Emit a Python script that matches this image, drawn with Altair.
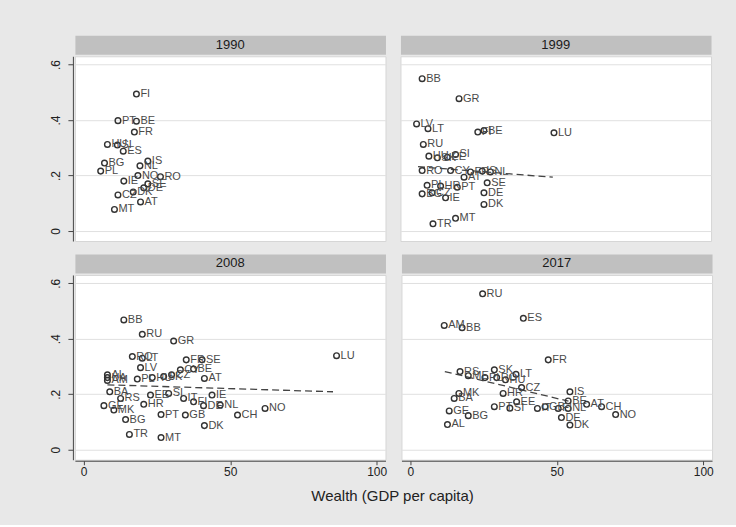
import altair as alt
import pandas as pd

FONT = "Liberation Sans"

years = ["1990", "1999", "2008", "2017"]

c1990 = ["FI", "PT", "BE", "FR", "HU", "SI", "ES", "BG", "PL", "IS", "NL", "NO", "RO",
         "IE", "SE", "DE", "DK", "CZ", "AT", "MT"]
x1990 = [18.0, 11.7, 18.0, 17.3, 8.1, 11.5, 13.5, 7.1, 5.8, 21.9, 19.2, 18.5, 26.2,
         13.7, 21.9, 20.5, 16.9, 11.7, 19.4, 10.5]
y1990 = [0.494, 0.398, 0.396, 0.357, 0.312, 0.310, 0.288, 0.245, 0.216, 0.252, 0.235, 0.200, 0.196,
         0.180, 0.170, 0.156, 0.141, 0.130, 0.105, 0.078]

c1999 = ["BB", "GR", "LV", "LT", "FI", "BE", "LU", "RU", "HU", "SK", "EE", "SI", "RO", "CY",
         "AT", "FR", "IS", "NL", "PL", "HR", "PT", "SE", "DE", "BG", "CZ", "IE", "DK", "TR", "MT"]
x1999 = [4.4, 17.0, 2.5, 6.4, 23.4, 25.5, 49.4, 4.8, 6.7, 9.6, 13.0, 15.8, 4.4, 14.1,
         18.7, 20.9, 24.9, 27.7, 6.1, 10.7, 16.4, 26.6, 25.5, 4.4, 7.8, 12.4, 25.5, 8.1, 15.8]
y1999 = [0.549, 0.477, 0.386, 0.369, 0.357, 0.362, 0.354, 0.312, 0.270, 0.264, 0.266, 0.276, 0.218, 0.218,
         0.194, 0.213, 0.216, 0.213, 0.165, 0.162, 0.158, 0.174, 0.138, 0.134, 0.138, 0.120, 0.096, 0.026, 0.046]

c2008 = ["BB", "RU", "GR", "LU", "RO", "LT", "FR", "SE", "LV", "CY", "BE", "AL", "UA", "AM",
         "PL", "HU", "SK", "CZ", "AT", "BA", "RS", "EE", "SI", "IT", "FI", "IE", "HR", "GE",
         "MK", "DE", "NL", "NO", "CH", "PT", "GB", "BG", "DK", "TR", "MT"]
x2008 = [13.7, 20.0, 30.7, 86.3, 16.6, 20.0, 35.0, 40.4, 19.4, 33.0, 37.5, 8.1, 8.1, 8.1,
         18.3, 23.4, 27.3, 30.0, 41.2, 8.9, 12.6, 22.8, 29.0, 34.1, 37.5, 43.8, 20.5, 6.9,
         10.3, 40.9, 46.6, 61.9, 52.5, 26.4, 34.7, 14.3, 41.2, 15.6, 26.4]
y2008 = [0.468, 0.416, 0.392, 0.339, 0.336, 0.330, 0.324, 0.324, 0.296, 0.288, 0.291, 0.270, 0.260, 0.250,
         0.255, 0.260, 0.264, 0.270, 0.257, 0.209, 0.185, 0.197, 0.203, 0.185, 0.173, 0.197, 0.164, 0.159,
         0.143, 0.159, 0.161, 0.149, 0.125, 0.127, 0.125, 0.109, 0.087, 0.055, 0.044]

c2017 = ["RU", "ES", "AM", "BB", "FR", "RS", "ME", "PL", "SK", "RO", "LT", "HU", "CZ", "MK",
         "BA", "HR", "IS", "BE", "AT", "CH", "EE", "GE", "BG", "PT", "SI", "IT", "GB", "FI",
         "NL", "DE", "DK", "NO", "AL"]
x2017 = [24.7, 38.6, 11.6, 17.7, 47.1, 17.0, 19.8, 25.5, 28.7, 29.5, 36.1, 32.5, 38.0, 16.6,
         15.0, 31.7, 54.5, 53.9, 60.2, 65.3, 36.3, 13.3, 19.8, 28.7, 34.0, 43.4, 46.0, 50.5,
         53.9, 51.6, 54.5, 70.1, 12.7]
y2017 = [0.562, 0.474, 0.448, 0.440, 0.324, 0.282, 0.267, 0.260, 0.288, 0.260, 0.272, 0.252, 0.224, 0.203,
         0.185, 0.203, 0.209, 0.176, 0.164, 0.155, 0.173, 0.140, 0.123, 0.155, 0.150, 0.149, 0.155, 0.149,
         0.149, 0.116, 0.089, 0.127, 0.091]

fit_year = ["1999", "1999", "2008", "2008", "2017", "2017"]
fit_x = [3.0, 49.0, 8.1, 85.1, 11.8, 54.0]
fit_y = [0.232, 0.194, 0.234, 0.209, 0.282, 0.175]

rows = []
for yr, cs, xs, ys in [("1990", c1990, x1990, y1990), ("1999", c1999, x1999, y1999),
                       ("2008", c2008, x2008, y2008), ("2017", c2017, x2017, y2017)]:
    for c, x, y in zip(cs, xs, ys):
        rows.append({"year": yr, "country": c, "gdp": x, "share": y})
df = pd.DataFrame(rows)
fit = pd.DataFrame({"year": fit_year, "gdp": fit_x, "share": fit_y})

XDOM = [-3, 103]
YDOM = [-0.036, 0.63]
W = 311
PH = 185
HH = 19


def panel(yr, show_y, show_x):
    if show_x:
        xaxis = alt.Axis(values=[0, 50, 100], grid=False, title=None, tickSize=4,
                         labelFontSize=12, labelFont=FONT, labelColor="#222",
                         domainColor="#444", tickColor="#444", labelPadding=2, offset=1)
    else:
        xaxis = alt.Axis(labels=False, ticks=False, domain=False, grid=False, title=None)
    if show_y:
        yaxis = alt.Axis(values=[0, 0.2, 0.4, 0.6], grid=True, gridColor="#e0e0e0", title=None,
                         tickSize=5, labelAngle=270, labelAlign="center", labelBaseline="bottom",
                         labelExpr="datum.value == 0 ? '0' : replace(format(datum.value, '.1f'), '0.', '.')",
                         labelFontSize=12, labelFont=FONT, labelColor="#222",
                         domainColor="#444", tickColor="#444", labelPadding=5, offset=2)
    else:
        yaxis = alt.Axis(values=[0, 0.2, 0.4, 0.6], labels=False, ticks=False, domain=False,
                         grid=True, gridColor="#e0e0e0", title=None)
    xenc = alt.X("gdp:Q", scale=alt.Scale(domain=XDOM, nice=False, zero=False), axis=xaxis)
    yenc = alt.Y("share:Q", scale=alt.Scale(domain=YDOM, nice=False, zero=False), axis=yaxis)

    base = alt.Chart(df).transform_filter(alt.datum.year == yr)
    pts = base.mark_point(shape="circle", filled=False, size=32, strokeWidth=1.4,
                          color="#333333", opacity=1).encode(x=xenc, y=yenc)
    txt = base.mark_text(align="left", baseline="middle", dx=4, fontSize=11, font=FONT,
                         color="#4a4a4a").encode(x=xenc, y=yenc, text="country:N")
    layers = [pts, txt]
    if yr in fit_year:
        line = alt.Chart(fit).transform_filter(alt.datum.year == yr).mark_line(
            strokeDash=[7, 4], color="#444444", strokeWidth=1.3).encode(x=xenc, y=yenc)
        layers = [line] + layers
    plot = alt.layer(*layers).properties(
        width=W, height=PH, view=alt.ViewBackground(fill="white", stroke="#d6d6d6"))

    header = alt.Chart(pd.DataFrame({"year": [yr]})).mark_text(
        fontSize=13, font=FONT, color="#1a1a1a", baseline="middle").encode(
        text="year:N").properties(width=W, height=HH,
                                  view=alt.ViewBackground(fill="#c0c0c0", stroke="transparent"))
    return alt.vconcat(header, plot, spacing=0)


top = alt.hconcat(panel("1990", True, False), panel("1999", False, False), spacing=13)
bottom = alt.hconcat(panel("2008", True, True), panel("2017", False, True), spacing=13)

chart = alt.vconcat(top, bottom, spacing=11).properties(
    title=alt.TitleParams("Wealth (GDP per capita)", orient="bottom", anchor="middle",
                          fontSize=15, font=FONT, fontWeight="normal", color="#222",
                          offset=11, dx=11),
    padding={"left": 49, "top": 34, "right": 22, "bottom": 20},
).configure(background="#e8e8e8").configure_view(strokeWidth=1)

chart.save("out.html", embed_options={"renderer": "svg", "actions": False})
